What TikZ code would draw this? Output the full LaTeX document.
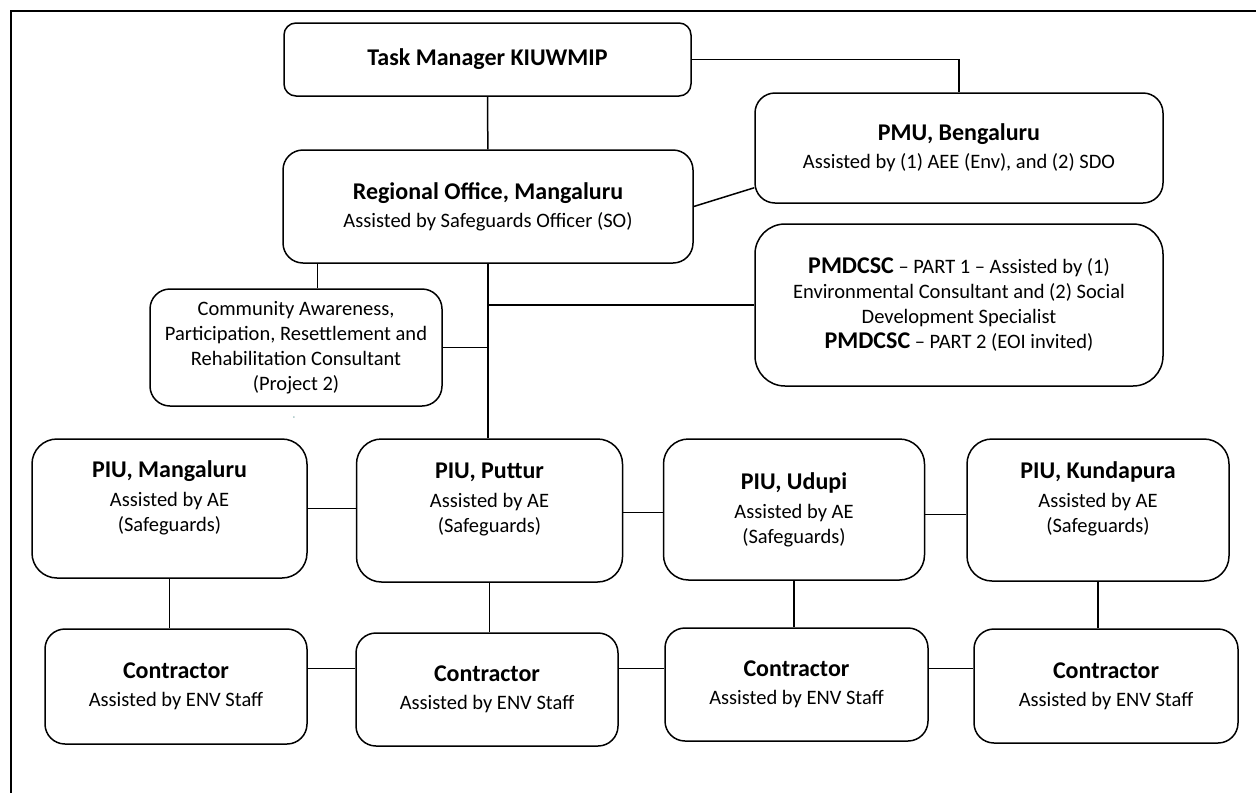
\documentclass[tikz,border=0pt]{standalone}
\usepackage{fontspec}
\setmainfont{Carlito}
\usetikzlibrary{positioning,calc}

\newcommand{\boxhead}[1]{{\fontsize{24}{29}\selectfont\bfseries #1}}

\begin{document}
\begin{tikzpicture}[
    x=1pt, y=-1pt,
    unit/.style={rectangle, draw, line width=1.5pt, rounded corners=20pt, align=center, inner sep=2pt, font=\fontsize{20.5}{25}\selectfont},
    link/.style={line width=1.5pt}
]
\useasboundingbox (0,0) rectangle (1256,793);

% Page frame
\draw[line width=1.5pt] (1256,11) -- (11,11) -- (11,793);

% Top level
\node[unit, rounded corners=12pt, minimum width=407pt, minimum height=73pt] (task) at (487.5,59.5) {\boxhead{Task Manager KIUWMIP}};
\node[unit, minimum width=408pt, minimum height=110pt] (pmu) at (959,148) {\boxhead{PMU, Bengaluru}\\[3pt] Assisted by (1) AEE (Env), and (2) SDO};
\node[unit, minimum width=410pt, minimum height=113pt] (region) at (488,206.5) {\boxhead{Regional Office, Mangaluru}\\[3pt] Assisted by Safeguards Officer (SO)};

% Consultants
\node[unit, rounded corners=30pt, minimum width=408pt, minimum height=162pt] (pmdcsc) at (959,305) {\boxhead{PMDCSC} -- PART 1 -- Assisted by (1)\\ Environmental Consultant and (2) Social\\ Development Specialist\\ \boxhead{PMDCSC} -- PART 2 (EOI invited)};
\node[unit, minimum width=292pt, minimum height=117pt] (community) at (296,347.5) {Community Awareness,\\ Participation, Resettlement and\\ Rehabilitation Consultant\\ (Project 2)};
\node[text=teal!70!black, font=\scriptsize] (mark) at (294,418) {-};

% PIUs
\node[unit, rounded corners=25pt, minimum width=275pt, minimum height=139pt] (piuA) at (169.5,508.5) {\boxhead{PIU, Mangaluru}\\[4pt] Assisted by AE\\ (Safeguards)\\ \mbox{}};
\node[unit, rounded corners=25pt, minimum width=266pt, minimum height=143pt] (piuB) at (489.5,510.5) {\boxhead{PIU, Puttur}\\[4pt] Assisted by AE\\ (Safeguards)\\ \mbox{}};
\node[unit, rounded corners=25pt, minimum width=261pt, minimum height=141pt] (piuC) at (794,509.5) {\boxhead{PIU, Udupi}\\[4pt] Assisted by AE\\ (Safeguards)};
\node[unit, rounded corners=25pt, minimum width=262pt, minimum height=142pt] (piuD) at (1098,510) {\boxhead{PIU, Kundapura}\\[4pt] Assisted by AE\\ (Safeguards)\\ \mbox{}};

% Contractors
\node[unit, minimum width=262pt, minimum height=115pt] (conA) at (176,686.5) {\boxhead{Contractor}\\[3pt] Assisted by ENV Staff};
\node[unit, minimum width=262pt, minimum height=113pt] (conB) at (487,689.5) {\boxhead{Contractor}\\[3pt] Assisted by ENV Staff};
\node[unit, minimum width=263pt, minimum height=113pt] (conC) at (796.5,684.5) {\boxhead{Contractor}\\[3pt] Assisted by ENV Staff};
\node[unit, minimum width=264pt, minimum height=114pt] (conD) at (1106,686) {\boxhead{Contractor}\\[3pt] Assisted by ENV Staff};

% Upper links
\draw[link] (task.east) -| (pmu.north);
\draw[link] (task) -- (region);
\draw[link] (region.east) -- ($(pmu.south west)+(0,16pt)$);

% Spine down to Puttur
\draw[link] (region.south) -- (region.south |- piuB.north);
\draw[link] (pmdcsc.west -| region.south) -- (pmdcsc.west);
\draw[link] (community.east) -- (community.east -| region.south);
\coordinate (drop) at ($(region.south west)+(35pt,0)$);
\draw[link] (drop) -- (drop |- community.north);

% PIU row
\draw[link] (piuA.east) -- (piuA.east -| piuB.west);
\draw[link] ($(piuB.east)+(0,-2pt)$) -- ($(piuB.east -| piuC.west)+(0,-2pt)$);
\draw[link] ($(piuC.east)+(0,-5pt)$) -- ($(piuC.east -| piuD.west)+(0,-5pt)$);

% PIU to contractor
\draw[link] (piuA.south) -- (piuA.south |- conA.north);
\draw[link] (piuB.south) -- (piuB.south |- conB.north);
\draw[link] (piuC.south) -- (piuC.south |- conC.north);
\draw[link] (piuD.south) -- (piuD.south |- conD.north);

% Contractor row
\draw[link] ($(conA.east)+(0,18pt)$) -- ($(conA.east -| conB.west)+(0,18pt)$);
\draw[link] ($(conB.east)+(0,21pt)$) -- ($(conB.east -| conC.west)+(0,21pt)$);
\draw[link] ($(conC.east)+(0,16pt)$) -- ($(conC.east -| conD.west)+(0,16pt)$);

\end{tikzpicture}
\end{document}
